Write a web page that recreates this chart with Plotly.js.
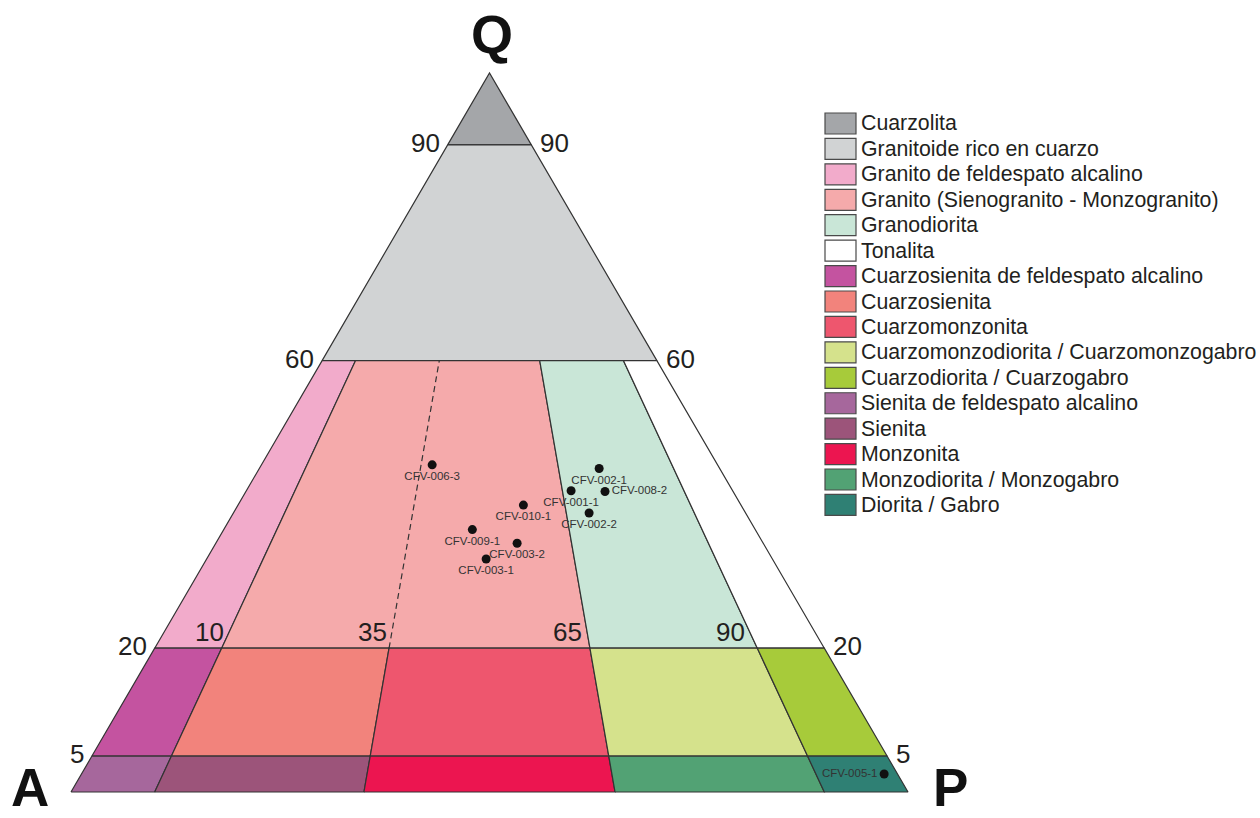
<!DOCTYPE html>
<html>
<head>
<meta charset="utf-8">
<script src="https://cdn.plot.ly/plotly-3.0.1.min.js"></script>
<style>html,body{margin:0;padding:0;background:#fff;}#chart{width:1260px;height:818px;}</style>
</head>
<body>
<div id="chart"></div>
<script>
// ---------- DATA ----------
const fieldNames = [
  'Cuarzolita',
  'Granitoide rico en cuarzo',
  'Granito de feldespato alcalino',
  'Granito (Sienogranito - Monzogranito)',
  'Granodiorita',
  'Tonalita',
  'Cuarzosienita de feldespato alcalino',
  'Cuarzosienita',
  'Cuarzomonzonita',
  'Cuarzomonzodiorita / Cuarzomonzogabro',
  'Cuarzodiorita / Cuarzogabro',
  'Sienita de feldespato alcalino',
  'Sienita',
  'Monzonita',
  'Monzodiorita / Monzogabro',
  'Diorita / Gabro'
];
const fieldColors = [
  '#a4a6a9', '#d1d3d4', '#f2abcb', '#f5aaab', '#c9e6d7', '#ffffff',
  '#c453a0', '#f2837c', '#ee566e', '#d5e28c', '#a7cb3a',
  '#a6679c', '#9c547a', '#ec1550', '#52a274', '#2f8074'
];
// Q range (%) of each field
const fieldQmin = [90, 60, 20, 20, 20, 20, 5, 5, 5, 5, 5, 0, 0, 0, 0, 0];
const fieldQmax = [100, 90, 60, 60, 60, 60, 20, 20, 20, 20, 20, 5, 5, 5, 5, 5];
// P/(A+P) range (%) of each field
const fieldRmin = [0, 0, 0, 10, 65, 90, 0, 10, 35, 65, 90, 0, 10, 35, 65, 90];
const fieldRmax = [100, 100, 10, 65, 90, 100, 10, 35, 65, 90, 100, 10, 35, 65, 90, 100];

// dashed Sienogranito / Monzogranito boundary
const dashRatio = 35;
const dashQ = [20, 60];

// samples
const sampleNames = ['CFV-006-3','CFV-002-1','CFV-001-1','CFV-008-2','CFV-010-1','CFV-002-2','CFV-009-1','CFV-003-2','CFV-003-1','CFV-005-1'];
const sampleQ = [45.5, 45.0, 41.9, 41.8, 39.9, 38.8, 36.5, 34.6, 32.4, 2.5];
const sampleA = [34.1, 14.4, 19.3, 15.3, 26.0, 18.7, 33.8, 29.4, 34.2, 1.6];
const sampleP = [20.4, 40.6, 38.8, 42.9, 34.1, 42.5, 29.7, 36.0, 33.4, 95.9];

// tick labels
const sideTicks = [90, 60, 20, 5];        // Q values along the sides
const ratioTicks = [10, 35, 65, 90];      // P/(A+P) values at Q = 20
const ratioTickQ = 20;
const vertexLabels = ['Q', 'A', 'P'];

// ---------- helpers ----------
// point given Q (%) and ratio P/(A+P) (%) -> cartesian (x = P + Q/2, y = Q)
function qr(q, r) { const p = r / 100 * (100 - q); return [p + q / 2, q]; }
function qap(q, a, p) { const s = q + a + p; q = q / s * 100; p = p / s * 100; return [p + q / 2, q]; }

const FONT = 'Liberation Sans, Arial, Helvetica, sans-serif';
const traces = [];

fieldNames.forEach((name, i) => {
  const pts = [
    qr(fieldQmin[i], fieldRmin[i]),
    qr(fieldQmin[i], fieldRmax[i]),
    qr(fieldQmax[i], fieldRmax[i]),
    qr(fieldQmax[i], fieldRmin[i]),
    qr(fieldQmin[i], fieldRmin[i])
  ];
  traces.push({
    type: 'scatter', mode: 'lines', name: name,
    x: pts.map(p => p[0]), y: pts.map(p => p[1]),
    fill: 'toself', fillcolor: fieldColors[i],
    line: { color: '#333333', width: 1.2 },
    hoverinfo: 'name', showlegend: false
  });
});

const dpts = dashQ.map(q => qr(q, dashRatio));
traces.push({
  type: 'scatter', mode: 'lines',
  x: dpts.map(p => p[0]), y: dpts.map(p => p[1]),
  line: { color: '#333333', width: 1.2, dash: '6px,4px' },
  hoverinfo: 'skip', showlegend: false
});

const sPts = sampleNames.map((n, i) => qap(sampleQ[i], sampleA[i], sampleP[i]));
const labelPos = sampleNames.map(n => n === 'CFV-008-2' ? 'middle right' : (n === 'CFV-005-1' ? 'middle left' : 'bottom center'));
traces.push({
  type: 'scatter', mode: 'markers+text',
  x: sPts.map(p => p[0]), y: sPts.map(p => p[1]),
  text: sampleNames, textposition: labelPos,
  textfont: { family: FONT, size: 11.5, color: '#333333' },
  marker: { color: '#111111', size: 9 },
  hovertemplate: '%{text}<extra></extra>', showlegend: false
});

// ---------- annotations ----------
const annotations = [];
sideTicks.forEach(q => {
  const L = qr(q, 0), R = qr(q, 100);
  annotations.push({ x: L[0], y: L[1], xref: 'x', yref: 'y', text: String(q), showarrow: false,
    xanchor: 'right', yanchor: 'middle', xshift: -6, yshift: 2, font: { family: FONT, size: 26, color: '#231f20' } });
  annotations.push({ x: R[0], y: R[1], xref: 'x', yref: 'y', text: String(q), showarrow: false,
    xanchor: 'left', yanchor: 'middle', xshift: 7, yshift: 2, font: { family: FONT, size: 26, color: '#231f20' } });
});
ratioTicks.forEach(r => {
  const P = qr(ratioTickQ + 2.2, r);
  annotations.push({ x: P[0], y: P[1], xref: 'x', yref: 'y', text: String(r), showarrow: false,
    xanchor: 'right', yanchor: 'middle', xshift: -3, font: { family: FONT, size: 26, color: '#231f20' } });
});
// Q on top of the apex; A and P resting on the bottom edge of the figure
annotations.push({ x: qr(100, 0)[0], y: qr(100, 0)[1], xref: 'x', yref: 'y', text: '<b>' + vertexLabels[0] + '</b>',
  showarrow: false, xanchor: 'center', yanchor: 'middle', xshift: 2, yshift: 39,
  font: { family: FONT, size: 54, color: '#111111' } });
annotations.push({ x: qr(0, 0)[0], y: 0, xref: 'x', yref: 'paper', text: '<b>' + vertexLabels[1] + '</b>',
  showarrow: false, xanchor: 'center', yanchor: 'bottom', xshift: -41, borderpad: 0,
  font: { family: FONT, size: 53, color: '#111111' } });
annotations.push({ x: qr(0, 100)[0], y: 0, xref: 'x', yref: 'paper', text: '<b>' + vertexLabels[2] + '</b>',
  showarrow: false, xanchor: 'center', yanchor: 'bottom', xshift: 42, borderpad: 0,
  font: { family: FONT, size: 53, color: '#111111' } });

// legend (drawn manually with boxes)
const W = 1260, H = 818;
const shapes = [];
const legX = 825, legW = 31, legTop = 113, legH = 21, legStep = 25.43;
fieldNames.forEach((name, i) => {
  const top = legTop + i * legStep;
  shapes.push({ type: 'rect', xref: 'paper', yref: 'paper',
    x0: legX / W, x1: (legX + legW) / W, y0: 1 - (top + legH) / H, y1: 1 - top / H,
    fillcolor: fieldColors[i], line: { color: '#4a4a4a', width: 1.2 } });
  annotations.push({ xref: 'paper', yref: 'paper', x: (legX + legW + 4) / W, y: 1 - (top + legH / 2) / H,
    text: name, showarrow: false, xanchor: 'left', yanchor: 'middle', borderpad: 0,
    font: { family: FONT, size: 21.3, color: '#231f20' } });
});

// axis ranges: A vertex at px (71,792), P at (908,792), Q apex at y 73
const pxA = 71, pxP = 908, pyBase = 792, pyApex = 73;
const sx = (pxP - pxA) / 100, sy = (pyBase - pyApex) / 100;
const layout = {
  width: W, height: H,
  margin: { l: 0, r: 0, t: 0, b: 0, pad: 0 },
  paper_bgcolor: '#ffffff', plot_bgcolor: '#ffffff',
  xaxis: { range: [-pxA / sx, (W - pxA) / sx], visible: false, fixedrange: true },
  yaxis: { range: [-(H - pyBase) / sy, pyBase / sy], visible: false, fixedrange: true },
  showlegend: false,
  annotations: annotations,
  shapes: shapes,
  font: { family: FONT }
};
Plotly.newPlot('chart', traces, layout, { displayModeBar: false, staticPlot: true });
</script>
</body>
</html>
